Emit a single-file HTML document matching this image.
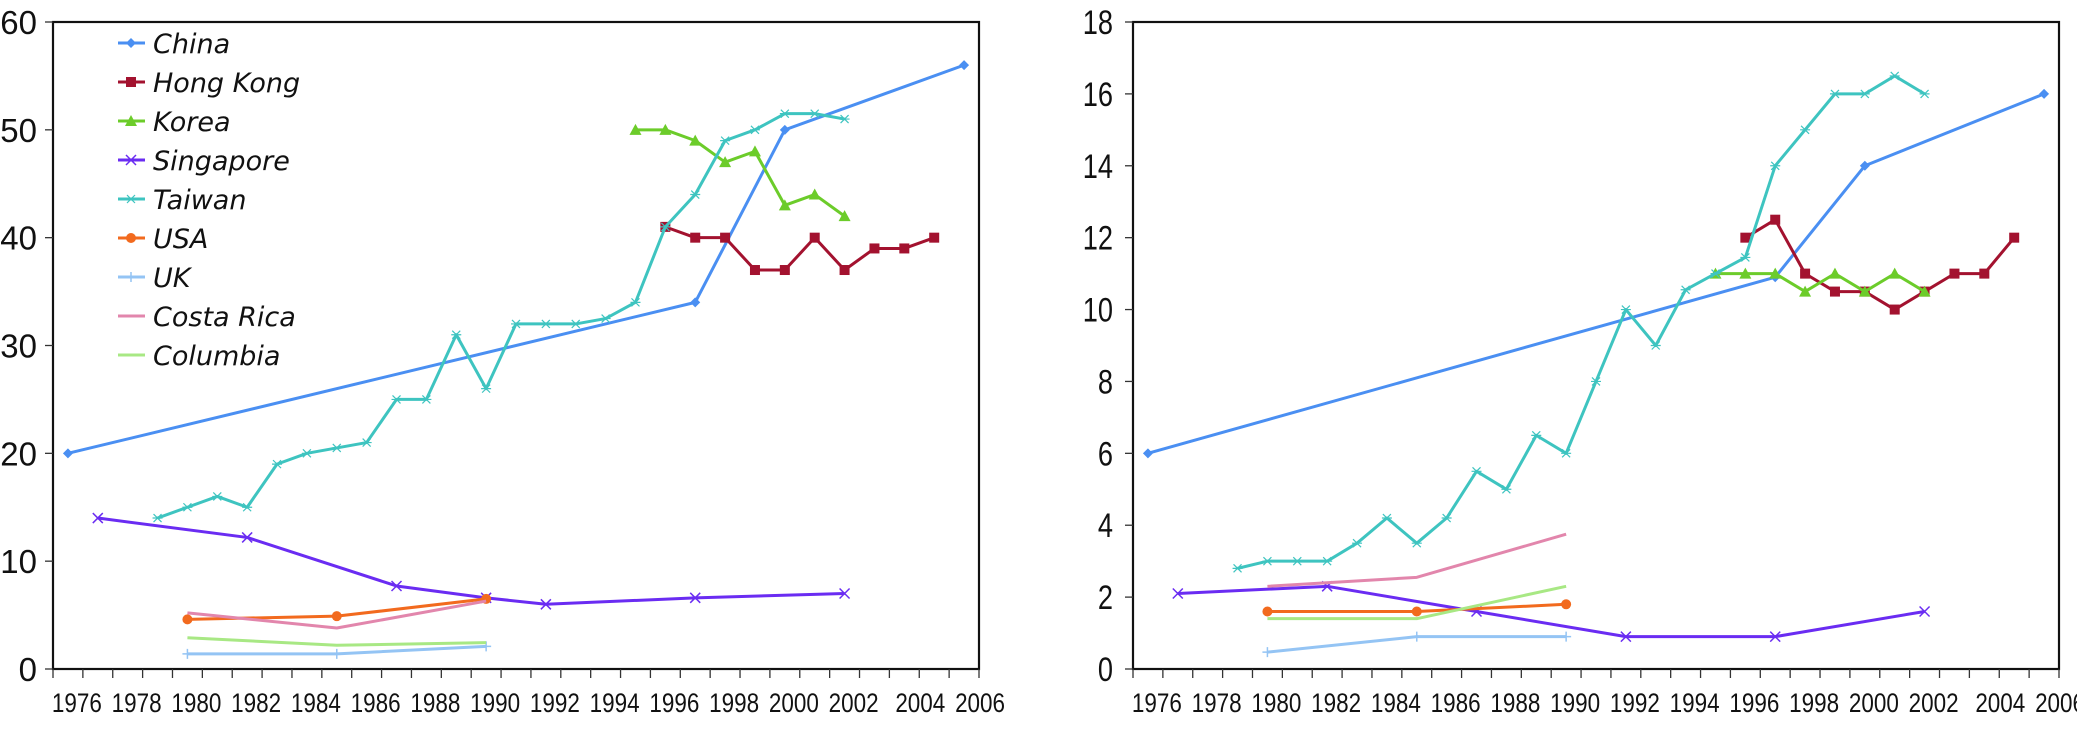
<!DOCTYPE html>
<html><head><meta charset="utf-8">
<style>
html,body{margin:0;padding:0;background:#fff;}
svg{display:block;}
text{font-family:"Liberation Sans",sans-serif;}
</style></head>
<body>
<svg id="chart" width="2077" height="741" viewBox="0 0 2077 741" xmlns="http://www.w3.org/2000/svg"></svg>
<script>
// ---- data (year, value) ----
const seriesNames = ["China","Hong Kong","Korea","Singapore","Taiwan","USA","UK","Costa Rica","Columbia"];
const xTickLabels = [1976,1978,1980,1982,1984,1986,1988,1990,1992,1994,1996,1998,2000,2002,2004,2006];
const leftYTicks = [0,10,20,30,40,50,60];
const rightYTicks = [0,2,4,6,8,10,12,14,16,18];

const leftChinaYears = [1976,1997,2000,2006];
const leftChinaVals = [20,34,50,56];
const leftHKYears = [1996,1997,1998,1999,2000,2001,2002,2003,2004,2005];
const leftHKVals = [41,40,40,37,37,40,37,39,39,40];
const leftKoreaYears = [1995,1996,1997,1998,1999,2000,2001,2002];
const leftKoreaVals = [50,50,49,47,48,43,44,42];
const leftSingYears = [1977,1982,1987,1990,1992,1997,2002];
const leftSingVals = [14,12.2,7.7,6.6,6.0,6.6,7.0];
const leftTaiwanYears = [1979,1980,1981,1982,1983,1984,1985,1986,1987,1988,1989,1990,1991,1992,1993,1994,1995,1996,1997,1998,1999,2000,2001,2002];
const leftTaiwanVals = [14,15,16,15,19,20,20.5,21,25,25,31,26,32,32,32,32.5,34,41,44,49,50,51.5,51.5,51];
const leftUSAYears = [1980,1985,1990];
const leftUSAVals = [4.6,4.9,6.5];
const leftUKYears = [1980,1985,1990];
const leftUKVals = [1.4,1.4,2.1];
const leftCostaYears = [1980,1985,1990];
const leftCostaVals = [5.2,3.8,6.3];
const leftColYears = [1980,1985,1990];
const leftColVals = [2.9,2.2,2.45];

const rightChinaYears = [1976,1997,2000,2006];
const rightChinaVals = [6,10.9,14,16];
const rightHKYears = [1996,1997,1998,1999,2000,2001,2002,2003,2004,2005];
const rightHKVals = [12,12.5,11,10.5,10.5,10,10.5,11,11,12];
const rightKoreaYears = [1995,1996,1997,1998,1999,2000,2001,2002];
const rightKoreaVals = [11,11,11,10.5,11,10.5,11,10.5];
const rightSingYears = [1977,1982,1987,1992,1997,2002];
const rightSingVals = [2.1,2.3,1.6,0.9,0.9,1.6];
const rightTaiwanYears = [1979,1980,1981,1982,1983,1984,1985,1986,1987,1988,1989,1990,1991,1992,1993,1994,1995,1996,1997,1998,1999,2000,2001,2002];
const rightTaiwanVals = [2.8,3,3,3,3.5,4.2,3.5,4.2,5.5,5,6.5,6,8,10,9,10.55,11,11.45,14,15,16,16,16.5,16];
const rightUSAYears = [1980,1985,1990];
const rightUSAVals = [1.6,1.6,1.8];
const rightUKYears = [1980,1985,1990];
const rightUKVals = [0.47,0.9,0.9];
const rightCostaYears = [1980,1985,1990];
const rightCostaVals = [2.3,2.55,3.75];
const rightColYears = [1980,1985,1990];
const rightColVals = [1.4,1.4,2.3];

const colors = ["#4a8ff2","#a3122f","#6ccc2a","#6a2cf2","#3ec4c0","#f26a1e","#94c4f4","#e286ac","#a8e884"];
const markers = ["diamond","square","triangle","x","star","circle","plus","none","none"];

const svg = document.getElementById('chart');
const NS = "http://www.w3.org/2000/svg";
function el(tag, attrs, parent){
  const e = document.createElementNS(NS, tag);
  for (const k in attrs) e.setAttribute(k, attrs[k]);
  (parent||svg).appendChild(e);
  return e;
}

function drawMarker(g, type, x, y, c){
  let m;
  if (type==="diamond") m = el('polygon',{points:`${x},${y-5} ${x+5},${y} ${x},${y+5} ${x-5},${y}`,fill:c},g);
  else if (type==="square") m = el('rect',{x:x-5,y:y-5,width:10,height:10,fill:c},g);
  else if (type==="triangle") m = el('polygon',{points:`${x},${y-6} ${x+6},${y+5} ${x-6},${y+5}`,fill:c},g);
  else if (type==="circle") m = el('circle',{cx:x,cy:y,r:5,fill:c},g);
  else if (type==="x") m = el('path',{d:`M${x-5} ${y-5}L${x+5} ${y+5}M${x-5} ${y+5}L${x+5} ${y-5}`,stroke:c,'stroke-width':1.5,fill:'none'},g);
  else if (type==="plus") m = el('path',{d:`M${x-5} ${y}L${x+5} ${y}M${x} ${y-5}L${x} ${y+5}`,stroke:c,'stroke-width':1.5,fill:'none'},g);
  else if (type==="star") m = el('path',{d:`M${x-5} ${y}L${x+5} ${y}M${x-4} ${y-4}L${x+4} ${y+4}M${x-4} ${y+4}L${x+4} ${y-4}`,stroke:c,'stroke-width':1.2,fill:'none'},g);
  if (m){
    
    
  }
}

function drawChart(cfg){
  const {name, x0, x1, top, bottom, yMax, yTicks, series, yLabelRight, yFont, yScaleX} = cfg;
  const g = el('g',{});
  
  
  const band = (x1-x0)/31;
  const X = yr => x0 + band*(yr-1976+0.5);
  const Y = v => bottom - v*(bottom-top)/yMax;
  // frame
  const fr = el('rect',{x:x0,y:top,width:x1-x0,height:bottom-top,fill:'none',stroke:'#111','stroke-width':2.2},g);
  
  
  // x ticks
  for (let k=0;k<=31;k++){
    const t = el('line',{x1:x0+band*k,x2:x0+band*k,y1:bottom,y2:bottom+9,stroke:'#333','stroke-width':1.3},g);
    
    
  }
  // x labels
  xTickLabels.forEach(yr=>{
    const off = 9 + (yr>=2004?7:0);
    const t = el('text',{x:X(yr)+off,y:bottom+43,'text-anchor':'middle','font-size':27,textLength:50,lengthAdjust:'spacingAndGlyphs',fill:'#111'},g);
    t.textContent = yr;
    
    
  });
  // y ticks & labels
  yTicks.forEach(v=>{
    const tk = el('line',{x1:x0-8,x2:x0,y1:Y(v),y2:Y(v),stroke:'#333','stroke-width':1.3},g);
    
    
    const t = el('text',{x:yLabelRight,y:Y(v)+12,'text-anchor':'end','font-size':yFont,fill:'#111',transform:`translate(${yLabelRight} 0) scale(${yScaleX} 1) translate(${-yLabelRight} 0)`},g);
    t.textContent = v;
    
    
  });
  // series
  series.forEach((s,i)=>{
    const sg = el('g',{},g);
    
    
    const pts = s.years.map((yr,j)=>[X(yr),Y(s.vals[j])]);
    const pl = el('polyline',{points:pts.map(p=>p.join(',')).join(' '),fill:'none',stroke:colors[i],'stroke-width':3,'stroke-linejoin':'round'},sg);
    
    
    pts.forEach(p=>drawMarker(sg, markers[i], p[0], p[1], colors[i]));
  });
  return g;
}

drawChart({name:'left-chart', x0:53, x1:979, top:22, bottom:669, yMax:60, yTicks:leftYTicks, yLabelRight:37, yFont:33, yScaleX:1,
  series:[
    {years:leftChinaYears, vals:leftChinaVals},
    {years:leftHKYears, vals:leftHKVals},
    {years:leftKoreaYears, vals:leftKoreaVals},
    {years:leftSingYears, vals:leftSingVals},
    {years:leftTaiwanYears, vals:leftTaiwanVals},
    {years:leftUSAYears, vals:leftUSAVals},
    {years:leftUKYears, vals:leftUKVals},
    {years:leftCostaYears, vals:leftCostaVals},
    {years:leftColYears, vals:leftColVals}
  ]});

drawChart({name:'right-chart', x0:1133, x1:2059, top:22, bottom:669, yMax:18, yTicks:rightYTicks, yLabelRight:1113, yFont:34, yScaleX:0.8,
  series:[
    {years:rightChinaYears, vals:rightChinaVals},
    {years:rightHKYears, vals:rightHKVals},
    {years:rightKoreaYears, vals:rightKoreaVals},
    {years:rightSingYears, vals:rightSingVals},
    {years:rightTaiwanYears, vals:rightTaiwanVals},
    {years:rightUSAYears, vals:rightUSAVals},
    {years:rightUKYears, vals:rightUKVals},
    {years:rightCostaYears, vals:rightCostaVals},
    {years:rightColYears, vals:rightColVals}
  ]});

// legend
const lg = el('g',{});


seriesNames.forEach((n,i)=>{
  const y = 43 + i*39;
  const eg = el('g',{},lg);
  
  
  el('line',{x1:118,x2:145,y1:y,y2:y,stroke:colors[i],'stroke-width':3},eg);
  drawMarker(eg, markers[i], 131, y, colors[i]);
  const t = el('text',{x:153,y:y+10,'font-size':27,'font-style':'italic',fill:'#111',style:'font-family:"DejaVu Sans",sans-serif'},eg);
  t.textContent = n;
});
</script>
</body></html>
